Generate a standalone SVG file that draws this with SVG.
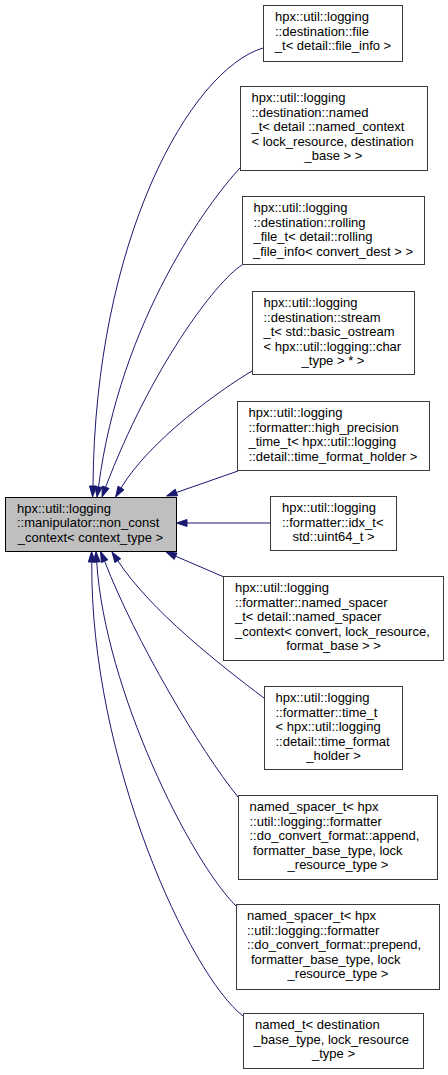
<svg xmlns="http://www.w3.org/2000/svg" width="448" height="1075" viewBox="0 0 448 1075">
<style>
  text { font-family: "Liberation Sans", Arial, Helvetica, sans-serif; font-size: 13px; fill: #000; }
  .c { text-anchor: middle; }
  .box { fill: #fff; stroke: #3a3a3a; stroke-width: 1; }
  .main { fill: #bfbfbf; stroke: #000; stroke-width: 1; }
  .edge { fill: none; stroke: #191970; stroke-width: 1; }
  .head { fill: #191970; stroke: #191970; stroke-width: 1; }
</style>
<rect x="0" y="0" width="448" height="1075" fill="#fff"/>
<g id="edges">
  <path class="edge" d="M263,48 C190,70 95,240 93,486"/>
  <polygon class="head" points="89.5,486 96.5,486 92.6,497"/>
  <path class="edge" d="M240,168 C210,200 120,320 98.5,487"/>
  <polygon class="head" points="95,486.5 102,487.5 97,497"/>
  <path class="edge" d="M242,265 C215,282 150,370 105.6,487.2"/>
  <polygon class="head" points="102.3,486 109,488.5 102,497"/>
  <path class="edge" d="M252,371 C220,390 150,440 121,488"/>
  <polygon class="head" points="118,486.2 124,489.8 115.6,497"/>
  <path class="edge" d="M238,471 L176.4,492.5"/>
  <polygon class="head" points="175.2,489.2 177.6,495.8 166.5,496"/>
  <path class="edge" d="M270,523 L187,523"/>
  <polygon class="head" points="187,519.5 187,526.5 176.5,523"/>
  <path class="edge" d="M224,577 L175.6,556.2"/>
  <polygon class="head" points="177,553 174.2,559.4 166,552"/>
  <path class="edge" d="M264,698 C220,665 150,610 117.8,560.7"/>
  <polygon class="head" points="120.7,558.8 114.9,562.6 112,552"/>
  <path class="edge" d="M238,797 C200,750 135,640 104.6,561.2"/>
  <polygon class="head" points="107.8,559.8 101.4,562.6 100.5,551.5"/>
  <path class="edge" d="M236,906 C190,860 105,690 96.7,562"/>
  <polygon class="head" points="100.2,561.8 93.2,562.2 96,551.5"/>
  <path class="edge" d="M243,1016 C190,975 90,760 91.8,562"/>
  <polygon class="head" points="88.3,562 95.3,562 91.6,551.5"/>
</g>
<g id="main">
  <rect class="main" x="5.5" y="497.5" width="171" height="54"/>
  <text x="17" y="512.5">hpx::util::logging</text>
  <text x="17" y="527">::manipulator::non_const</text>
  <text class="c" x="90.5" y="541.5">_context&lt; context_type &gt;</text>
</g>
<g id="n1">
  <rect class="box" x="263.5" y="5.5" width="139" height="56"/>
  <text x="275" y="21">hpx::util::logging</text>
  <text x="275" y="35.5">::destination::file</text>
  <text class="c" x="333" y="50">_t&lt; detail::file_info &gt;</text>
</g>
<g id="n2">
  <rect class="box" x="240.5" y="86.5" width="187" height="84"/>
  <text x="251.5" y="102">hpx::util::logging</text>
  <text x="251.5" y="116.5">::destination::named</text>
  <text x="251.5" y="131">_t&lt; detail ::named_context</text>
  <text x="251.5" y="145.5">&lt; lock_resource, destination</text>
  <text class="c" x="333.5" y="160">_base &gt; &gt;</text>
</g>
<g id="n3">
  <rect class="box" x="242.5" y="196.5" width="182" height="68"/>
  <text x="253.5" y="212">hpx::util::logging</text>
  <text x="253.5" y="226.5">::destination::rolling</text>
  <text x="253.5" y="241">_file_t&lt; detail::rolling</text>
  <text class="c" x="333" y="255.5">_file_info&lt; convert_dest &gt; &gt;</text>
</g>
<g id="n4">
  <rect class="box" x="252.5" y="291.5" width="162" height="83"/>
  <text x="263.5" y="307">hpx::util::logging</text>
  <text x="263.5" y="321.5">::destination::stream</text>
  <text x="263.5" y="336">_t&lt; std::basic_ostream</text>
  <text x="263.5" y="350.5">&lt; hpx::util::logging::char</text>
  <text class="c" x="333" y="365">_type &gt; * &gt;</text>
</g>
<g id="n5">
  <rect class="box" x="237.5" y="401.5" width="192" height="69"/>
  <text x="248.5" y="417">hpx::util::logging</text>
  <text x="248.5" y="431.5">::formatter::high_precision</text>
  <text x="248.5" y="446">_time_t&lt; hpx::util::logging</text>
  <text class="c" x="333" y="460.5">::detail::time_format_holder &gt;</text>
</g>
<g id="n6">
  <rect class="box" x="270.5" y="496.5" width="126" height="54"/>
  <text x="282" y="512">hpx::util::logging</text>
  <text x="282" y="526.5">::formatter::idx_t&lt;</text>
  <text class="c" x="333.5" y="541">std::uint64_t &gt;</text>
</g>
<g id="n7">
  <rect class="box" x="223.5" y="576.5" width="220" height="84"/>
  <text x="235" y="592">hpx::util::logging</text>
  <text x="235" y="606.5">::formatter::named_spacer</text>
  <text x="235" y="621">_t&lt; detail::named_spacer</text>
  <text x="235" y="635.5">_context&lt; convert, lock_resource,</text>
  <text class="c" x="333.5" y="650">format_base &gt; &gt;</text>
</g>
<g id="n8">
  <rect class="box" x="264.5" y="686.5" width="138" height="83"/>
  <text x="275.5" y="702">hpx::util::logging</text>
  <text x="275.5" y="716.5">::formatter::time_t</text>
  <text x="275.5" y="731">&lt; hpx::util::logging</text>
  <text x="275.5" y="745.5">::detail::time_format</text>
  <text class="c" x="333.5" y="760">_holder &gt;</text>
</g>
<g id="n9">
  <rect class="box" x="238.5" y="795.5" width="199" height="84"/>
  <text x="249.5" y="811">named_spacer_t&lt; hpx</text>
  <text x="249.5" y="825.5">::util::logging::formatter</text>
  <text x="249.5" y="840">::do_convert_format::append,</text>
  <text x="253" y="854.5">formatter_base_type, lock</text>
  <text class="c" x="338" y="869">_resource_type &gt;</text>
</g>
<g id="n10">
  <rect class="box" x="236.5" y="904.5" width="203" height="85"/>
  <text x="247" y="920">named_spacer_t&lt; hpx</text>
  <text x="247" y="934.5">::util::logging::formatter</text>
  <text x="247" y="949">::do_convert_format::prepend,</text>
  <text x="251" y="963.5">formatter_base_type, lock</text>
  <text class="c" x="338" y="978">_resource_type &gt;</text>
</g>
<g id="n11">
  <rect class="box" x="243.5" y="1013.5" width="180" height="55"/>
  <text x="255" y="1029">named_t&lt; destination</text>
  <text x="253.5" y="1043.5">_base_type, lock_resource</text>
  <text class="c" x="333.5" y="1058">_type &gt;</text>
</g>
</svg>
